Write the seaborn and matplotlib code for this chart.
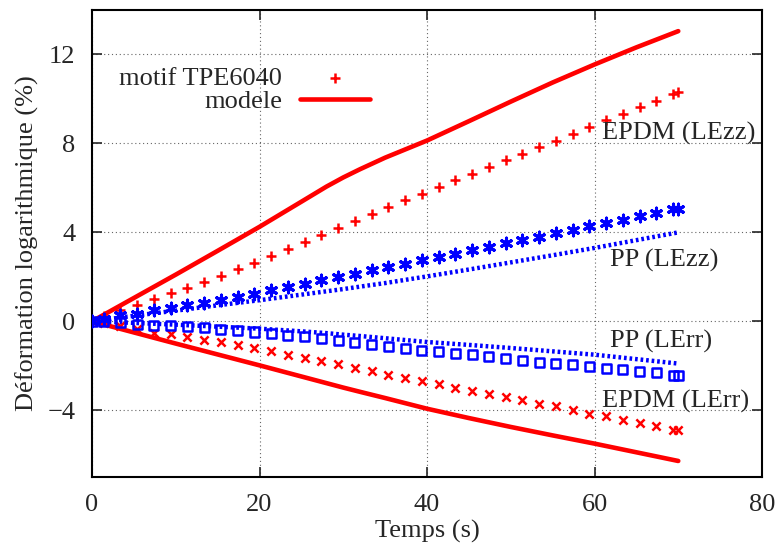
import matplotlib
matplotlib.use("Agg")
import matplotlib.pyplot as plt
import seaborn as sns
import pandas as pd

# temps des mesures (s)
temps = [0, 1.4, 3.4, 5.4, 7.4, 9.4, 11.4, 13.4, 15.4, 17.4, 19.4, 21.4, 23.4,
         25.4, 27.4, 29.4, 31.4, 33.4, 35.4, 37.4, 39.4, 41.4, 43.4, 45.4,
         47.4, 49.4, 51.4, 53.4, 55.4, 57.4, 59.4, 61.4, 63.4, 65.4, 67.4,
         69.4, 70]

epdm_lezz = [0, 0.22, 0.49, 0.75, 1.00, 1.26, 1.51, 1.78, 2.05, 2.34, 2.64,
             2.94, 3.25, 3.58, 3.90, 4.21, 4.53, 4.84, 5.14, 5.44, 5.74, 6.04,
             6.34, 6.64, 6.94, 7.24, 7.54, 7.83, 8.13, 8.44, 8.73, 9.06, 9.33,
             9.63, 9.93, 10.23, 10.30]
epdm_lerr = [0, -0.08, -0.20, -0.35, -0.52, -0.58, -0.70, -0.82, -0.94, -1.05,
             -1.20, -1.35, -1.50, -1.65, -1.80, -1.93, -2.10, -2.25, -2.40,
             -2.55, -2.68, -2.83, -2.98, -3.12, -3.27, -3.40, -3.55, -3.70,
             -3.83, -3.98, -4.15, -4.27, -4.42, -4.57, -4.72, -4.90, -4.88]
pp_lezz = [0, 0.12, 0.27, 0.35, 0.49, 0.62, 0.75, 0.84, 0.98, 1.09, 1.23,
           1.39, 1.53, 1.69, 1.84, 1.99, 2.14, 2.29, 2.44, 2.59, 2.74, 2.89,
           3.04, 3.19, 3.34, 3.50, 3.65, 3.80, 3.95, 4.10, 4.27, 4.42, 4.57,
           4.72, 4.89, 5.03, 5.06]
pp_lerr = [0, -0.03, -0.06, -0.13, -0.18, -0.21, -0.25, -0.30, -0.36, -0.40,
           -0.48, -0.55, -0.63, -0.70, -0.78, -0.88, -0.97, -1.05, -1.14,
           -1.21, -1.29, -1.36, -1.44, -1.51, -1.60, -1.68, -1.75, -1.83,
           -1.89, -1.96, -2.05, -2.10, -2.17, -2.25, -2.32, -2.43, -2.45]

# modele
temps_mod = [0, 5, 10, 15, 20, 25, 28, 30, 32, 35, 40, 45, 50, 55, 60, 65, 70]
mod_epdm_lezz = [0, 1.05, 2.10, 3.17, 4.25, 5.38, 6.06, 6.47, 6.84, 7.36,
                 8.13, 9.00, 9.88, 10.74, 11.55, 12.32, 13.05]
mod_epdm_lerr = [0, -0.50, -1.00, -1.49, -1.98, -2.48, -2.78, -2.98, -3.17,
                 -3.45, -3.93, -4.35, -4.75, -5.13, -5.50, -5.89, -6.28]
mod_pp_lezz = [0, 0.25, 0.48, 0.72, 0.95, 1.20, 1.35, 1.45, 1.56, 1.72, 2.02,
               2.33, 2.65, 2.97, 3.30, 3.65, 4.00]
mod_pp_lerr = [0, -0.07, -0.15, -0.24, -0.33, -0.45, -0.53, -0.60, -0.66,
               -0.76, -0.93, -1.06, -1.20, -1.35, -1.50, -1.70, -1.90]

etiquettes = ["EPDM (LEzz)", "PP (LEzz)", "PP (LErr)", "EPDM (LErr)"]
pos_etiquettes = [(60.9, 8.45), (61.8, 2.72), (61.8, -0.92), (60.9, -3.6)]

sns.set_style("ticks")
plt.rcParams["font.family"] = ["Liberation Serif", "DejaVu Serif"]

fig = plt.figure(figsize=(7.81, 5.47), dpi=100)
ax = fig.add_axes([0.1178, 0.128, 0.8579, 0.8537])

mes = pd.DataFrame({"t": temps, "epdm_zz": epdm_lezz, "epdm_rr": epdm_lerr,
                    "pp_zz": pp_lezz, "pp_rr": pp_lerr})
mod = pd.DataFrame({"t": temps_mod, "epdm_zz": mod_epdm_lezz,
                    "epdm_rr": mod_epdm_lerr, "pp_zz": mod_pp_lezz,
                    "pp_rr": mod_pp_lerr})

# modeles EPDM (trait plein) et PP (pointilles)
sns.lineplot(data=mod, x="t", y="epdm_zz", ax=ax, color="red", lw=3.3,
             label="modele", zorder=3)
sns.lineplot(data=mod, x="t", y="epdm_rr", ax=ax, color="red", lw=3.3,
             zorder=3)
for col in ["pp_zz", "pp_rr"]:
    sns.lineplot(data=mod, x="t", y=col, ax=ax, color="blue", lw=3.2,
                 linestyle=(0, (0.6, 0.65)), dash_capstyle="butt", zorder=3)

# points de mesure
sns.scatterplot(data=mes, x="t", y="epdm_zz", ax=ax, marker="+", s=45,
                color="red", linewidth=1.8, label="motif TPE6040", zorder=4)
sns.scatterplot(data=mes, x="t", y="epdm_rr", ax=ax, marker="x", s=35,
                color="red", linewidth=1.8, zorder=4)
sns.scatterplot(data=mes, x="t", y="pp_zz", ax=ax, marker=(6, 2, 0), s=60,
                color="blue", linewidth=2.2, zorder=4)
sns.scatterplot(data=mes, x="t", y="pp_rr", ax=ax, marker="s", s=42,
                facecolors="none", edgecolor="blue", linewidth=1.8, zorder=4)

for txt, (x, y) in zip(etiquettes, pos_etiquettes):
    ax.text(x, y, txt, fontsize=19, ha="left", va="center", zorder=5)

ax.set_xlim(0, 80)
ax.set_ylim(-7, 14)
ax.set_xticks([0, 20, 40, 60, 80])
ax.set_yticks([-4, 0, 4, 8, 12])
ax.set_yticklabels(["\u22124", "0", "4", "8", "12"])
ax.set_xlabel("Temps (s)", fontsize=19, labelpad=3)
ax.set_ylabel("Déformation logarithmique (%)", fontsize=19, labelpad=6)
ax.tick_params(direction="in", length=7, width=1.2, labelsize=19,
               top=True, right=True, pad=12)
ax.grid(True, color="0.4", linestyle=(0, (1, 2.5)), lw=0.8)
for sp in ax.spines.values():
    sp.set_linewidth(1.5)
    sp.set_color("black")

h, l = ax.get_legend_handles_labels()
ordre = [l.index("motif TPE6040"), l.index("modele")]
ax.legend([h[i] for i in ordre], [l[i] for i in ordre], loc="center",
          bbox_to_anchor=(0.228, 0.829), frameon=False, markerfirst=False,
          fontsize=19, handlelength=2.65, handletextpad=0.7, labelspacing=0.0,
          scatterpoints=1)

fig.savefig("out.png", dpi=100)
